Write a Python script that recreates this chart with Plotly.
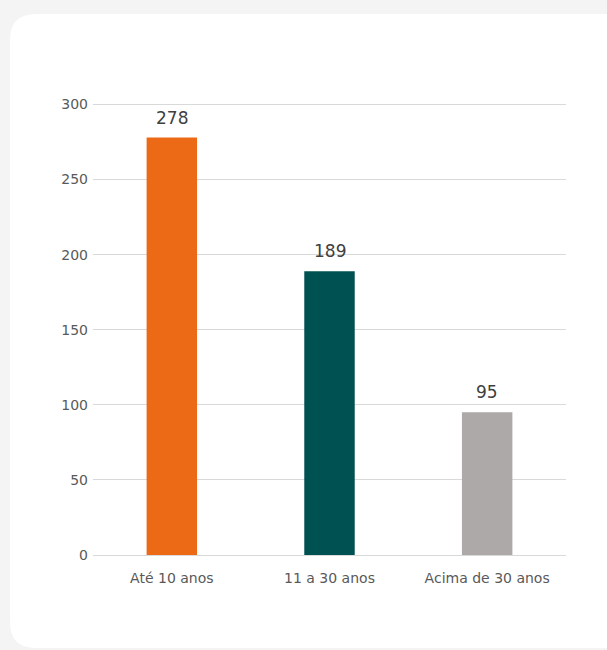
import plotly.graph_objects as go

# dados do gráfico
categorias = ['Até 10 anos', '11 a 30 anos', 'Acima de 30 anos']
valores = [278, 189, 95]
cores = ['#EC6A16', '#005151', '#ADA9A8']
ticks_y = [0, 50, 100, 150, 200, 250, 300]

W, H = 607, 650
L, R, T, B = 93, 41, 103, 95
pw, ph = W - L - R, H - T - B


def px(x, y):
    # pixel -> coordenadas paper
    return (x - L) / pw, (H - B - y) / ph


def cartao(x0, y0, x1, y1, r):
    def p(x, y):
        a, b = px(x, y)
        return f"{a:.5f},{b:.5f}"
    d = "M " + p(x0 + r, y0)
    d += " L " + p(x1 - r, y0) + " Q " + p(x1, y0) + " " + p(x1, y0 + r)
    d += " L " + p(x1, y1 - r) + " Q " + p(x1, y1) + " " + p(x1 - r, y1)
    d += " L " + p(x0 + r, y1) + " Q " + p(x0, y1) + " " + p(x0, y1 - r)
    d += " L " + p(x0, y0 + r) + " Q " + p(x0, y0) + " " + p(x0 + r, y0) + " Z"
    return d


fig = go.Figure()
fig.add_trace(go.Bar(
    x=categorias, y=valores,
    marker=dict(color=cores, line=dict(width=0)),
    hoverinfo='x+y'
))

# rótulos de dados
for c, v in zip(categorias, valores):
    fig.add_annotation(x=c, y=v, text=str(v), showarrow=False,
                       yanchor='bottom', yshift=8,
                       font=dict(family='DejaVu Sans', size=17, color='#404040'))

fig.add_shape(type='path', path=cartao(10, 14, 640, 648, 26),
              xref='paper', yref='paper', fillcolor='white',
              line=dict(width=0), layer='below')

fig.update_layout(
    width=W, height=H,
    margin=dict(l=L, r=R, t=T, b=B),
    paper_bgcolor='#F4F4F4',
    plot_bgcolor='rgba(0,0,0,0)',
    showlegend=False,
    bargap=0.68,
    font=dict(family='DejaVu Sans', size=14, color='#595959'),
)
fig.update_yaxes(range=[0, 301], tickvals=ticks_y, showgrid=True,
                 gridcolor='#D9D9D9', gridwidth=1, zeroline=False,
                 showline=False, ticks='', ticklabelstandoff=4,
                 tickfont=dict(size=14, color='#595959'))
fig.update_xaxes(showline=True, linecolor='#D9D9D9', linewidth=1,
                 ticks='', ticklabelstandoff=10,
                 tickfont=dict(size=14, color='#595959'))

fig.write_html("out.html", config={'displayModeBar': False},
               post_script="document.body.style.margin='0';document.body.style.overflow='hidden';")
